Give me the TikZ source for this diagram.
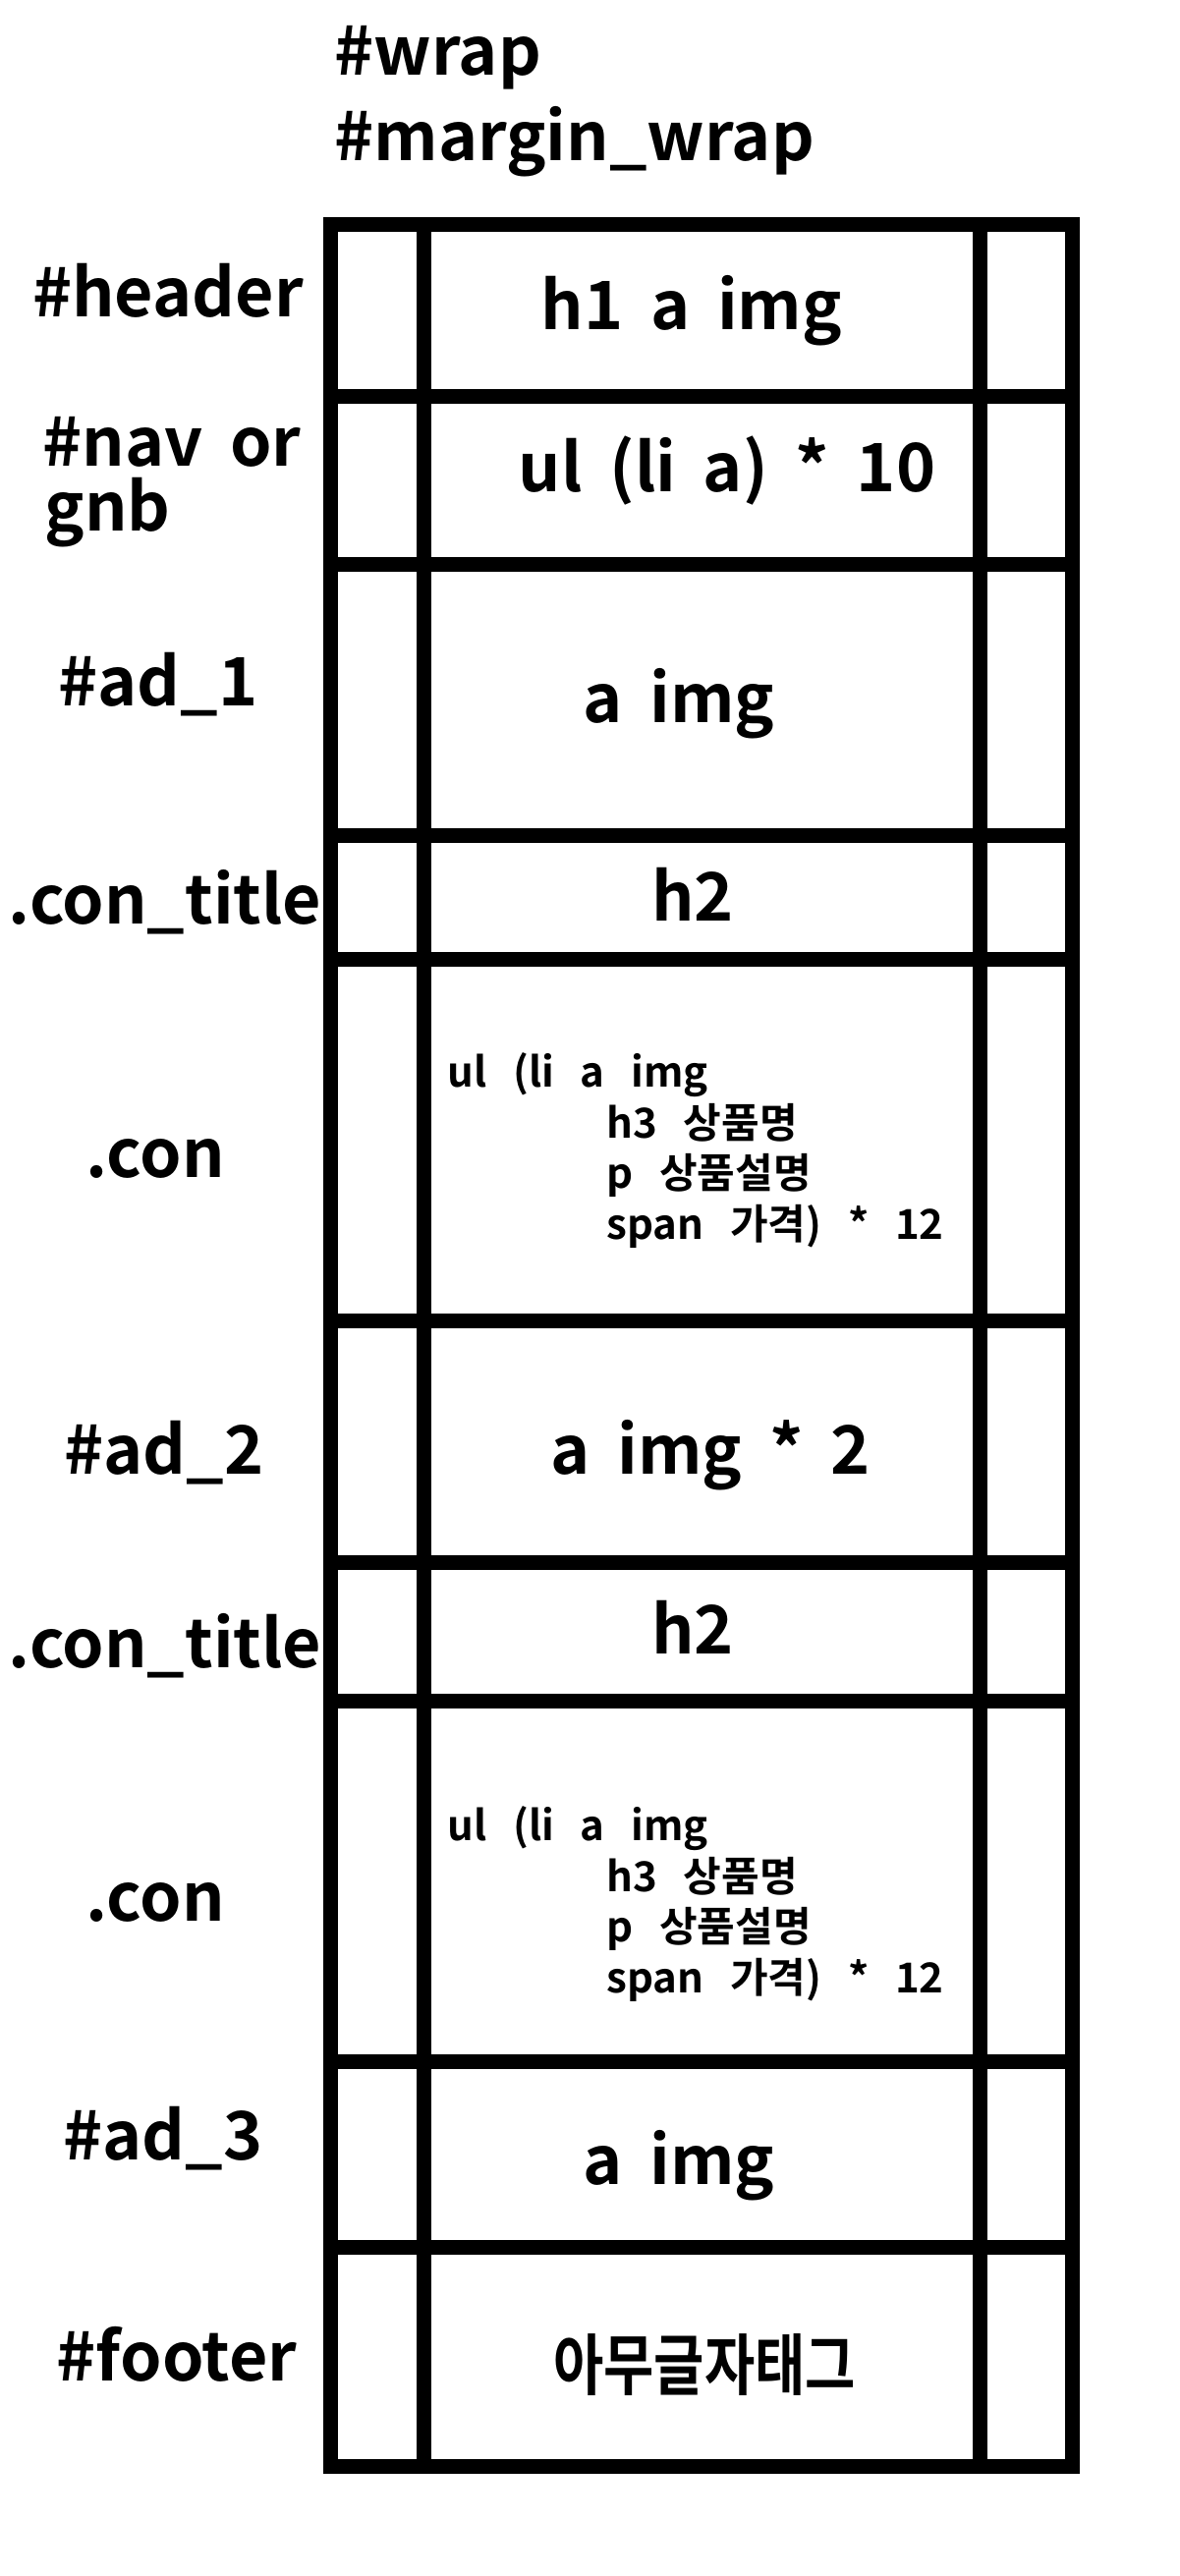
\documentclass[tikz,border=0pt]{standalone}
\usepackage{fontspec}
\setmainfont{Noto Sans CJK KR}[BoldFont={Noto Sans CJK KR Bold}, WordSpace=1.8]
\newfontfamily\blockfont{Noto Sans CJK KR Bold}[WordSpace=2.8]
\newfontfamily\narrowfont{Noto Sans CJK KR Bold}[FakeStretch=0.82]
\usepackage{tikz}

\begin{document}
\begin{tikzpicture}[x=1pt, y=-1pt, line width=15pt,
		lbl/.style={font=\bfseries\fontsize{68}{68}\selectfont, inner sep=0, anchor=base},
		blk/.style={font=\blockfont\fontsize{42}{51.5}\selectfont, inner sep=0, align=left, anchor=north west}]
		\useasboundingbox (0,0) rectangle (1200,2622);
		
		% frame
		\draw (336,229) rectangle (1091,2510);
		\draw (431,229) -- (431,2510);
		\draw (997,229) -- (997,2510);
		\draw (336,403) -- (1091,403);
		\draw (336,574) -- (1091,574);
		\draw (336,850) -- (1091,850);
		\draw (336,976) -- (1091,976);
		\draw (336,1344) -- (1091,1344);
		\draw (336,1590) -- (1091,1590);
		\draw (336,1731) -- (1091,1731);
		\draw (336,2098) -- (1091,2098);
		\draw (336,2287) -- (1091,2287);
		
		% names
		\node[lbl, anchor=base west] (wrap) at (333,77) {\#wrap};
		\node[lbl, anchor=base west] (marginwrap) at (333,164) {\#margin\_wrap};
		\node[lbl] (header) at (171,322) {\#header};
		\node[lbl, anchor=base west] (nav) at (36,474) {\#nav or};
		\node[lbl, anchor=base west] (gnb) at (38,540) {gnb};
		\node[lbl] (adone) at (161,718) {\#ad\_1};
		\node[lbl] (contitleone) at (168,940) {.con\_title};
		\node[lbl] (conone) at (158,1198) {.con};
		\node[lbl] (adtwo) at (167,1500) {\#ad\_2};
		\node[lbl] (contitletwo) at (168,1697) {.con\_title};
		\node[lbl] (contwo) at (158,1955) {.con};
		\node[lbl] (adthree) at (166,2198) {\#ad\_3};
		\node[lbl] (footer) at (180,2423) {\#footer};
		
		% contents
		\node[lbl] (headerin) at (704,335) {h1 a img};
		\node[lbl] (navin) at (740,500) {ul (li a) * 10};
		\node[lbl] (adonein) at (691,735) {a img};
		\node[lbl] (contitleonein) at (705,937) {h2};
		\node[blk] (cononein) at (448,1064) {ul (li a img\\
			\hspace*{162pt}h3 상품명\\
			\hspace*{162pt}p 상품설명\\
			\hspace*{162pt}span 가격) * 12};
		\node[lbl] (adtwoin) at (723,1500) {a img * 2};
		\node[lbl] (contitletwoin) at (705,1683) {h2};
		\node[blk] (contwoin) at (448,1831) {ul (li a img\\
			\hspace*{162pt}h3 상품명\\
			\hspace*{162pt}p 상품설명\\
			\hspace*{162pt}span 가격) * 12};
		\node[lbl] (adthreein) at (691,2223) {a img};
		\node[lbl, font=\narrowfont\fontsize{68}{68}\selectfont] (footerin) at (717,2432) {아무글자태그};
\end{tikzpicture}
\end{document}
